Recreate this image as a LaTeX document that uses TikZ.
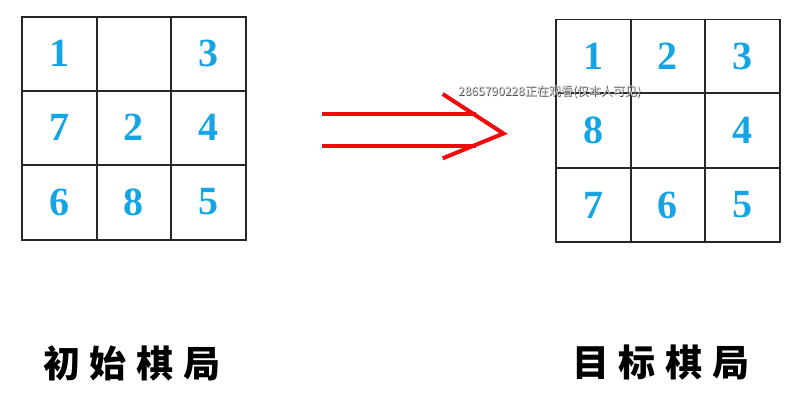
\documentclass[tikz,border=0pt]{standalone}
\usepackage{fontspec}
\setmainfont{Liberation Serif}
\newfontfamily\cjk{Noto Sans CJK SC}
\definecolor{digitblue}{RGB}{22,165,228}
\definecolor{arrowred}{RGB}{240,10,10}
\tikzset{
  gridline/.style={line width=1.6pt, draw=black!85},
  digit/.style={text=digitblue, font=\fontsize{40}{40}\selectfont\bfseries, inner sep=0pt, anchor=center},
  caption/.style={font=\cjk\bfseries\fontsize{37}{37}\selectfont, text=black, inner sep=0pt},
  redline/.style={draw=arrowred, line width=4pt},
  wmark/.style={font=\cjk\fontsize{12}{12}\selectfont, inner sep=0pt, anchor=west},
}
\begin{document}
\begin{tikzpicture}[x=1pt,y=-1pt]
\useasboundingbox (0,0) rectangle (794,402);
% left grid
\draw[gridline] (22,17) rectangle (246,240);
\draw[gridline] (96.7,17) -- (96.7,240) (171,17) -- (171,240);
\draw[gridline] (22,90.7) -- (246,90.7) (22,165) -- (246,165);
% right grid
\draw[gridline] (556,19.5) rectangle (780,242);
\draw[gridline] (630.7,19.5) -- (630.7,242) (705,19.5) -- (705,242);
\draw[gridline] (556,93) -- (780,93) (556,167.7) -- (780,167.7);
% left digits
\node[digit] (L11) at (59.3,53) {1};
\node[digit] (L13) at (208.3,53) {3};
\node[digit] (L21) at (59.3,127.5) {7};
\node[digit] (L22) at (133.8,127.5) {2};
\node[digit] (L23) at (208.3,127.5) {4};
\node[digit] (L31) at (59.3,202) {6};
\node[digit] (L32) at (133.8,202) {8};
\node[digit] (L33) at (208.3,202) {5};
% right digits
\node[digit] (R11) at (593.3,56) {1};
\node[digit] (R12) at (667.8,56) {2};
\node[digit] (R13) at (742.3,56) {3};
\node[digit] (R21) at (593.3,130.5) {8};
\node[digit] (R23) at (742.3,130.5) {4};
\node[digit] (R31) at (593.3,205) {7};
\node[digit] (R32) at (667.8,205) {6};
\node[digit] (R33) at (742.3,205) {5};
% double arrow
\coordinate (tip) at (503.5,133.5);
\draw[redline] (321.5,114.3) -- (476,114.3);
\draw[redline] (321.5,146) -- (476,146);
\draw[redline, line join=miter] (442.7,94) -- (tip) -- (442.7,158.3);
% captions
\node[caption] (capL) at (132,363) {初\hspace{10pt}始\hspace{10pt}棋\hspace{10pt}局};
\node[caption] (capR) at (661,363) {目\hspace{10pt}标\hspace{10pt}棋\hspace{10pt}局};
% watermark
\node[wmark, text=black!75] at (458.7,92.7) {2865790228正在观看(仅本人可见)};
\node[wmark, text=black!15] (wm) at (458,92) {2865790228正在观看(仅本人可见)};
\end{tikzpicture}
\end{document}
